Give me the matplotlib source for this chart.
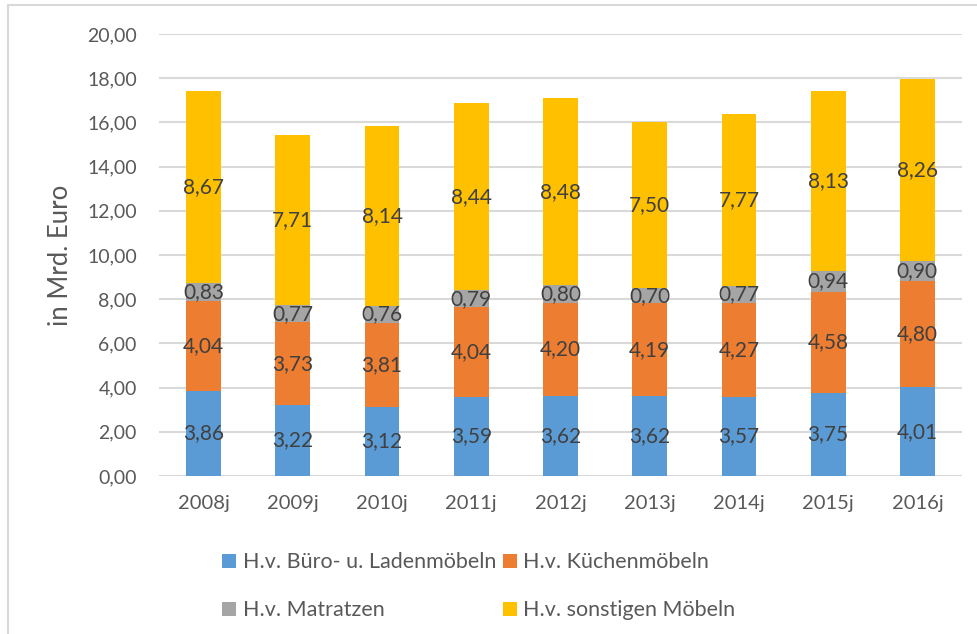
import matplotlib
matplotlib.use("Agg")
import matplotlib.pyplot as plt
from matplotlib.patches import Patch, Rectangle
import numpy as np

plt.rcParams['font.family'] = ['Lato', 'DejaVu Sans']

years = ["2008j", "2009j", "2010j", "2011j", "2012j", "2013j", "2014j", "2015j", "2016j"]
buero = [3.86, 3.22, 3.12, 3.59, 3.62, 3.62, 3.57, 3.75, 4.01]
kueche = [4.04, 3.73, 3.81, 4.04, 4.20, 4.19, 4.27, 4.58, 4.80]
matratzen = [0.83, 0.77, 0.76, 0.79, 0.80, 0.70, 0.77, 0.94, 0.90]
sonstige = [8.67, 7.71, 8.14, 8.44, 8.48, 7.50, 7.77, 8.13, 8.26]

series = [
    ("H.v. Büro- u. Ladenmöbeln", buero, "#5B9BD5"),
    ("H.v. Küchenmöbeln", kueche, "#ED7D31"),
    ("H.v. Matratzen", matratzen, "#A5A5A5"),
    ("H.v. sonstigen Möbeln", sonstige, "#FFC000"),
]

fig = plt.figure(figsize=(9.78, 6.34), dpi=100)
ax = fig.add_axes([159 / 978, 1 - 476 / 634, (962 - 159) / 978, (476 - 34) / 634])

# light frame around the chart (only top and left edges visible)
fig.patches.append(Rectangle((8 / 978, -0.05), 1.2, 1 - 5 / 634 + 0.05,
                             transform=fig.transFigure, fill=False,
                             edgecolor="#D9D9D9", linewidth=1.5))

x = np.arange(len(years))
bottom = np.zeros(len(years))
handles = []
for name, vals, color in series:
    bars = ax.bar(x, vals, width=0.39, bottom=bottom, color=color, zorder=3)
    ax.bar_label(bars, labels=[f"{v:.2f}".replace(".", ",") for v in vals],
                 label_type="center", fontsize=15, color="#404040")
    bottom += np.array(vals)
    handles.append(Patch(facecolor=color, label=name))

ax.set_xlim(-0.5, len(years) - 0.5)
ax.set_ylim(0, 20)
ax.set_yticks(np.arange(0, 20.01, 2))
ax.set_yticklabels([f"{v:.2f}".replace(".", ",") for v in np.arange(0, 20.01, 2)])
ax.set_xticks(x)
ax.set_xticklabels(years)
ax.tick_params(length=0, labelsize=14, colors="#595959")
ax.tick_params(axis="x", labelsize=14.5, pad=14)
ax.tick_params(axis="y", pad=16)
ax.grid(axis="y", color="#D9D9D9", linewidth=1.5, zorder=0)
for s in ax.spines.values():
    s.set_visible(False)
ax.set_ylabel("in Mrd. Euro", fontsize=18.5, color="#595959", labelpad=10)

order = [0, 2, 1, 3]
fig.legend([handles[i] for i in order], [series[i][0] for i in order],
           ncol=2, loc="upper left", bbox_to_anchor=(203 / 978, 1 - 533 / 634),
           frameon=False, fontsize=15.5, labelcolor="#595959",
           handlelength=0.65, handleheight=0.65, handletextpad=0.3,
           columnspacing=0.3, labelspacing=1.3)

fig.savefig("out.png", dpi=100)
